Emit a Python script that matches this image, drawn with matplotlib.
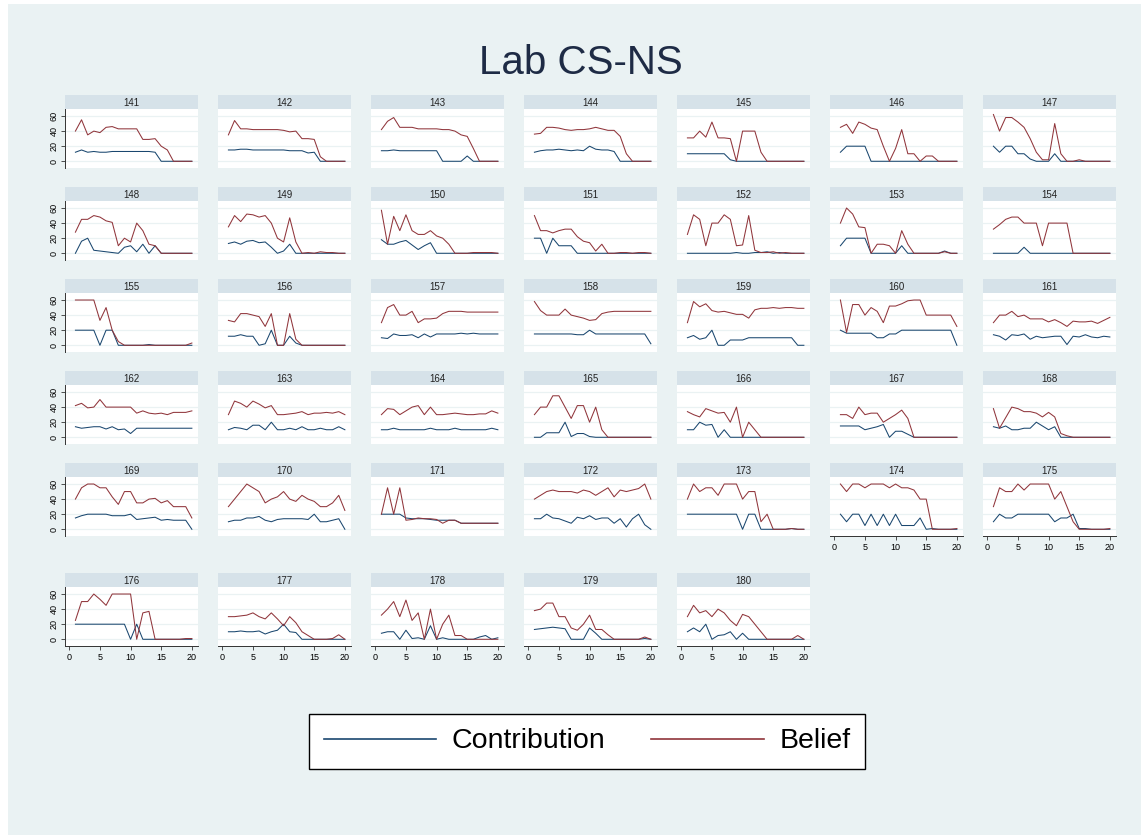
import matplotlib
matplotlib.use("Agg")
import matplotlib.pyplot as plt
from matplotlib.patches import Rectangle
from matplotlib.lines import Line2D

plt.rcParams['font.family'] = ['Liberation Sans', 'DejaVu Sans']

rounds = list(range(1, 21))
groups = list(range(141, 181))

# contribution per round, one row per group (141..180)
contribution = [
    [12, 15, 12, 13, 12, 12, 13, 13, 13, 13, 13, 13, 13, 12, 0, 0, 0, 0, 0, 0],
    [15, 15, 16, 16, 15, 15, 15, 15, 15, 15, 14, 14, 14, 11, 12, 0, 0, 0, 0, 0],
    [14, 14, 15, 14, 14, 14, 14, 14, 14, 14, 0, 0, 0, 0, 7, 0, 0, 0, 0, 0],
    [12, 14, 15, 15, 16, 15, 14, 15, 14, 20, 16, 15, 15, 13, 0, 0, 0, 0, 0, 0],
    [10, 10, 10, 10, 10, 10, 10, 2, 0, 0, 0, 0, 0, 0, 0, 0, 0, 0, 0, 0],
    [12, 20, 20, 20, 20, 0, 0, 0, 0, 0, 0, 0, 0, 0, 0, 0, 0, 0, 0, 0],
    [20, 12, 20, 20, 10, 10, 3, 0, 0, 0, 10, 0, 0, 0, 0, 0, 0, 0, 0, 0],
    [0, 16, 20, 4, 3, 2, 1, 0, 8, 10, 2, 12, 0, 10, 0, 0, 0, 0, 0, 0],
    [13, 15, 12, 16, 17, 14, 15, 8, 0, 3, 12, 0, 0, 0, 0, 0, 0, 0, 0, 0],
    [18, 12, 12, 15, 17, 11, 5, 10, 14, 0, 0, 0, 0, 0, 0, 0, 0, 0, 0, 0],
    [20, 20, 0, 20, 10, 10, 10, 0, 0, 0, 0, 0, 0, 0, 0, 0, 0, 0, 0, 0],
    [0, 0, 0, 0, 0, 0, 0, 0, 1, 0, 0, 1, 1, 2, 0, 1, 0, 0, 0, 0],
    [10, 20, 20, 20, 20, 0, 0, 0, 0, 0, 10, 0, 0, 0, 0, 0, 0, 3, 0, 0],
    [0, 0, 0, 0, 0, 8, 0, 0, 0, 0, 0, 0, 0, 0, 0, 0, 0, 0, 0, 0],
    [20, 20, 20, 20, 0, 20, 20, 0, 0, 0, 0, 0, 1, 0, 0, 0, 0, 0, 0, 0],
    [12, 12, 14, 12, 12, 0, 2, 20, 0, 0, 12, 3, 0, 0, 0, 0, 0, 0, 0, 0],
    [10, 9, 15, 13, 13, 14, 10, 15, 11, 15, 15, 15, 15, 16, 15, 16, 15, 15, 15, 15],
    [15, 15, 15, 15, 15, 15, 15, 14, 14, 20, 15, 15, 15, 15, 15, 15, 15, 15, 15, 2],
    [10, 13, 8, 10, 20, 0, 0, 7, 7, 7, 10, 10, 10, 10, 10, 10, 10, 10, 0, 0],
    [20, 16, 16, 16, 16, 16, 10, 10, 15, 15, 20, 20, 20, 20, 20, 20, 20, 20, 20, 0],
    [14, 12, 7, 14, 13, 15, 8, 12, 10, 11, 12, 12, 1, 12, 11, 14, 11, 10, 12, 11],
    [14, 12, 13, 14, 14, 11, 14, 10, 11, 5, 12, 12, 12, 12, 12, 12, 12, 12, 12, 12],
    [10, 13, 12, 10, 16, 16, 10, 20, 10, 10, 12, 10, 14, 10, 10, 12, 10, 10, 14, 10],
    [10, 10, 12, 10, 10, 10, 10, 10, 12, 10, 10, 10, 12, 10, 10, 10, 10, 10, 12, 10],
    [0, 0, 6, 6, 6, 20, 1, 5, 5, 1, 0, 0, 0, 0, 0, 0, 0, 0, 0, 0],
    [10, 10, 20, 16, 17, 0, 10, 0, 0, 0, 0, 0, 0, 0, 0, 0, 0, 0, 0, 0],
    [15, 15, 15, 15, 10, 12, 14, 17, 0, 8, 8, 4, 0, 0, 0, 0, 0, 0, 0, 0],
    [14, 12, 15, 10, 10, 12, 12, 20, 15, 10, 14, 0, 0, 0, 0, 0, 0, 0, 0, 0],
    [15, 18, 20, 20, 20, 20, 18, 18, 18, 20, 13, 14, 15, 16, 12, 13, 12, 12, 12, 0],
    [10, 12, 12, 15, 15, 17, 12, 10, 13, 14, 14, 14, 14, 13, 20, 10, 10, 12, 14, 0],
    [20, 20, 20, 20, 15, 14, 14, 14, 13, 12, 12, 12, 12, 8, 8, 8, 8, 8, 8, 8],
    [14, 14, 20, 15, 14, 11, 8, 16, 14, 18, 13, 15, 15, 8, 14, 3, 14, 20, 6, 0],
    [20, 20, 20, 20, 20, 20, 20, 20, 20, 0, 20, 20, 0, 0, 0, 0, 0, 1, 0, 0],
    [20, 10, 20, 20, 5, 20, 5, 20, 5, 20, 5, 5, 5, 15, 0, 1, 0, 0, 0, 0],
    [10, 20, 15, 15, 20, 20, 20, 20, 20, 20, 10, 15, 15, 20, 1, 1, 0, 0, 0, 0],
    [20, 20, 20, 20, 20, 20, 20, 20, 20, 0, 20, 0, 0, 0, 0, 0, 0, 0, 0, 0],
    [10, 10, 11, 10, 10, 11, 7, 10, 12, 20, 10, 9, 0, 0, 0, 0, 0, 0, 0, 0],
    [8, 10, 10, 0, 12, 1, 2, 0, 18, 0, 2, 0, 0, 0, 0, 0, 3, 5, 0, 2],
    [13, 14, 15, 16, 15, 14, 0, 0, 0, 15, 8, 0, 0, 0, 0, 0, 0, 0, 1, 0],
    [10, 15, 10, 20, 0, 5, 6, 10, 0, 8, 0, 0, 0, 0, 0, 0, 0, 0, 0, 0],
]

# belief per round, one row per group (141..180)
belief = [
    [40, 55, 35, 40, 38, 45, 46, 43, 43, 43, 43, 29, 29, 30, 20, 15, 0, 0, 0, 0],
    [35, 54, 43, 43, 42, 42, 42, 42, 42, 41, 39, 40, 30, 30, 29, 6, 0, 0, 0, 0],
    [42, 53, 58, 45, 45, 45, 43, 43, 43, 43, 42, 42, 40, 35, 33, 17, 0, 0, 0, 0],
    [36, 37, 45, 45, 44, 42, 41, 42, 42, 43, 45, 43, 41, 41, 33, 10, 0, 0, 0, 0],
    [31, 31, 40, 32, 52, 31, 31, 30, 0, 40, 40, 40, 12, 0, 0, 0, 0, 0, 0, 0],
    [45, 49, 37, 52, 49, 44, 42, 20, 0, 17, 42, 10, 10, 0, 7, 7, 0, 0, 0, 0],
    [62, 40, 58, 58, 52, 45, 30, 12, 2, 2, 50, 10, 0, 0, 2, 0, 0, 0, 0, 0],
    [28, 45, 45, 50, 48, 43, 41, 10, 20, 15, 40, 30, 12, 10, 0, 0, 0, 0, 0, 0],
    [35, 50, 42, 52, 51, 48, 50, 40, 20, 15, 47, 15, 0, 1, 0, 2, 1, 1, 0, 0],
    [57, 12, 49, 30, 51, 30, 25, 25, 30, 23, 20, 12, 0, 0, 0, 1, 1, 1, 1, 0],
    [50, 30, 30, 27, 30, 32, 32, 22, 16, 14, 3, 12, 0, 0, 1, 1, 0, 1, 1, 0],
    [25, 51, 45, 10, 40, 40, 51, 45, 10, 11, 50, 4, 1, 1, 2, 0, 1, 0, 0, 0],
    [40, 60, 52, 35, 34, 0, 12, 12, 10, 0, 30, 12, 0, 0, 0, 0, 0, 2, 0, 0],
    [32, 38, 45, 48, 48, 40, 40, 40, 10, 40, 40, 40, 40, 0, 0, 0, 0, 0, 0, 0],
    [60, 60, 60, 60, 33, 50, 20, 5, 0, 0, 0, 0, 0, 0, 0, 0, 0, 0, 0, 3],
    [33, 31, 42, 42, 40, 38, 25, 42, 0, 0, 42, 8, 0, 0, 0, 0, 0, 0, 0, 0],
    [30, 50, 54, 40, 40, 45, 30, 35, 35, 36, 42, 45, 45, 45, 44, 44, 44, 44, 44, 44],
    [58, 46, 40, 40, 40, 48, 40, 38, 36, 33, 34, 42, 44, 45, 45, 45, 45, 45, 45, 45],
    [30, 58, 51, 55, 46, 44, 45, 43, 41, 41, 36, 47, 49, 49, 50, 49, 50, 50, 49, 49],
    [60, 17, 54, 54, 40, 50, 45, 30, 52, 52, 55, 59, 60, 60, 40, 40, 40, 40, 40, 25],
    [30, 40, 40, 45, 38, 40, 35, 35, 35, 31, 34, 30, 25, 32, 31, 31, 32, 29, 33, 37],
    [42, 45, 39, 40, 50, 40, 40, 40, 40, 40, 32, 35, 32, 31, 32, 30, 33, 33, 33, 35],
    [30, 48, 45, 40, 48, 44, 39, 42, 30, 30, 31, 32, 34, 30, 32, 32, 33, 32, 34, 30],
    [30, 38, 37, 30, 35, 40, 42, 30, 40, 30, 30, 31, 32, 31, 30, 30, 31, 31, 35, 32],
    [30, 40, 40, 55, 55, 40, 25, 42, 42, 20, 40, 10, 0, 0, 0, 0, 0, 0, 0, 0],
    [34, 30, 27, 38, 35, 32, 33, 20, 40, 0, 20, 10, 0, 0, 0, 0, 0, 0, 0, 0],
    [30, 30, 25, 40, 30, 32, 32, 20, 25, 30, 36, 25, 0, 0, 0, 0, 0, 0, 0, 0],
    [38, 12, 26, 40, 38, 34, 34, 32, 27, 33, 27, 5, 2, 0, 0, 0, 0, 0, 0, 0],
    [40, 55, 60, 60, 55, 55, 43, 33, 50, 50, 35, 35, 40, 41, 35, 38, 30, 30, 30, 15],
    [30, 40, 50, 60, 55, 50, 35, 40, 43, 50, 40, 37, 45, 40, 37, 30, 30, 35, 45, 25],
    [20, 55, 20, 55, 12, 13, 15, 14, 14, 13, 8, 12, 12, 8, 8, 8, 8, 8, 8, 8],
    [40, 45, 50, 52, 50, 50, 50, 48, 52, 50, 45, 50, 55, 43, 52, 50, 52, 54, 60, 40],
    [40, 60, 50, 55, 55, 45, 60, 60, 60, 40, 50, 50, 10, 20, 0, 0, 0, 1, 0, 0],
    [60, 50, 60, 60, 55, 60, 60, 60, 55, 60, 55, 55, 52, 40, 40, 0, 0, 0, 0, 1],
    [30, 55, 50, 50, 60, 52, 60, 60, 60, 60, 40, 50, 30, 10, 0, 0, 0, 0, 0, 1],
    [25, 50, 50, 60, 53, 45, 60, 60, 60, 60, 0, 35, 37, 0, 0, 0, 0, 0, 1, 1],
    [30, 30, 31, 32, 35, 30, 27, 35, 27, 18, 30, 22, 10, 5, 0, 0, 0, 1, 6, 0],
    [32, 40, 50, 30, 52, 25, 35, 0, 40, 0, 20, 32, 5, 5, 0, 0, 0, 0, 0, 0],
    [38, 40, 48, 48, 30, 30, 15, 12, 20, 32, 13, 13, 6, 0, 0, 0, 0, 0, 3, 0],
    [30, 45, 35, 38, 30, 40, 35, 25, 18, 33, 30, 20, 10, 0, 0, 0, 0, 0, 5, 0],
]

y_ticks = [0, 20, 40, 60]
x_ticks = [0, 5, 10, 15, 20]

NAVY = '#1a476f'
MAROON = '#90353b'
BG = '#eaf2f3'
STRIP = '#d6e2e9'

W, H = 1148, 839
fig = plt.figure(figsize=(W / 100, H / 100), dpi=100, facecolor='white')


def rect(left, top, width, height):
    return [left / W, 1 - (top + height) / H, width / W, height / H]


fig.patches.append(Rectangle((8 / W, 4 / H), 1133 / W, 831 / H, transform=fig.transFigure,
                             facecolor=BG, edgecolor='none', zorder=-10))

fig.text(581 / W, 1 - 74 / H, 'Lab CS-NS', ha='center', va='baseline', fontsize=29, color='#1e2b45')

for i, g in enumerate(groups):
    r, c = divmod(i, 7)
    top = 95 + 92 * r if r < 5 else 573
    left = 65 + 153 * c

    sax = fig.add_axes(rect(left, top, 133, 14))
    sax.set_facecolor(STRIP)
    sax.set_xticks([])
    sax.set_yticks([])
    for s in sax.spines.values():
        s.set_visible(False)
    sax.text(0.5, 0.45, str(g), ha='center', va='center', fontsize=7, color='#222222',
             transform=sax.transAxes)

    ax = fig.add_axes(rect(left, top + 14, 133, 59))
    ax.set_facecolor('white')
    ax.set_xlim(-0.7, 21.0)
    ax.set_ylim(-8.9, 69.3)
    for yv in y_ticks:
        ax.axhline(yv, color=BG, lw=0.9, zorder=1)
    ax.plot(rounds, contribution[i], color=NAVY, lw=0.75, zorder=2)
    ax.plot(rounds, belief[i], color=MAROON, lw=0.75, zorder=3)

    for s in ax.spines.values():
        s.set_visible(False)

    if c == 0:
        ax.spines['left'].set_visible(True)
        ax.spines['left'].set_color('#333333')
        ax.spines['left'].set_linewidth(0.7)
        ax.set_yticks(y_ticks)
        ax.set_yticklabels([str(v) for v in y_ticks], rotation=90, va='center', fontsize=6.5)
        ax.tick_params(axis='y', length=3, width=0.6, pad=1.5, color='#333333')
    else:
        ax.set_yticks([])

    if r == 5 or (r == 4 and c >= 5):
        ax.spines['bottom'].set_visible(True)
        ax.spines['bottom'].set_color('#333333')
        ax.spines['bottom'].set_linewidth(0.7)
        ax.set_xticks(x_ticks)
        ax.set_xticklabels([str(v) for v in x_ticks], fontsize=6.5)
        ax.tick_params(axis='x', length=3, width=0.6, pad=2, color='#333333')
    else:
        ax.set_xticks([])

handles = [Line2D([], [], color=NAVY, lw=1.2), Line2D([], [], color=MAROON, lw=1.2)]
leg = fig.legend(handles, ['Contribution', 'Belief'], loc='center',
                 bbox_to_anchor=(587 / W, 1 - 741.5 / H), ncol=2, fontsize=20.5,
                 frameon=True, fancybox=False, edgecolor='black', framealpha=1,
                 handlelength=3.95, handletextpad=0.55, columnspacing=1.6,
                 borderpad=0.5, borderaxespad=0)
leg.get_frame().set_linewidth(1.0)

fig.savefig('out.png', dpi=100, facecolor=fig.get_facecolor())
